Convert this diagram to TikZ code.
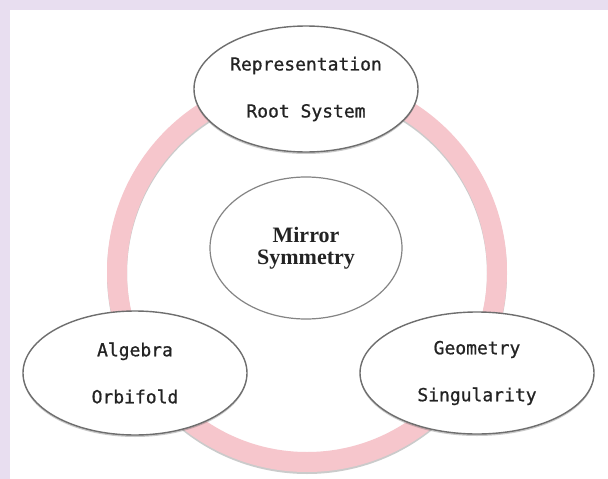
\documentclass[tikz,border=0pt]{standalone}
\usepackage{fontspec}
\newfontfamily\gothicfont[FakeBold=0.8]{DejaVu Sans Mono}
\newfontfamily\mirrorfont{Liberation Serif}
\usetikzlibrary{shapes.geometric,shadows}
\definecolor{bglav}{RGB}{232,222,240}
\definecolor{ringpink}{RGB}{246,198,204}
\definecolor{edgegray}{RGB}{110,110,110}
\definecolor{txt}{RGB}{35,35,35}
\begin{document}
\begin{tikzpicture}[x=1pt,y=-1pt,
  topic/.style={ellipse, draw=edgegray, line width=1.4pt, fill=white, inner sep=0pt,
    align=center, text=txt, font=\gothicfont\fontsize{18}{47}\selectfont,
    drop shadow={shadow xshift=0pt, shadow yshift=-2pt, opacity=0.35, fill=black!60}},
  core/.style={ellipse, draw=edgegray!85, line width=1.2pt, fill=white, inner sep=0pt,
    align=center, text=txt, font=\mirrorfont\bfseries\fontsize{22}{21.5}\selectfont},
  ringband/.style={ringpink, line width=20pt},
  ringshade/.style={black!45, opacity=0.45, line width=20pt}]
\fill[bglav] (0,0) rectangle (608,479);
\fill[white] (10,10) rectangle (608,479);
\useasboundingbox (0,0) rectangle (608,479);
\coordinate (ringc) at (307,272);
\draw[ringshade] ([yshift=-2pt]ringc) circle[radius=190];
\draw[ringband] (ringc) circle[radius=190];
\node[topic, minimum width=224pt, minimum height=126pt] (rep) at (306,89) {Representation\\Root System};
\node[core, minimum width=192pt, minimum height=142pt] (mirror) at (306,248) {Mirror\\Symmetry};
\node[topic, minimum width=224pt, minimum height=124pt] (alg) at (135,373) {Algebra\\Orbifold};
\node[topic, minimum width=234pt, minimum height=122pt] (geo) at (477,373) {Geometry\\Singularity};
\end{tikzpicture}
\end{document}
